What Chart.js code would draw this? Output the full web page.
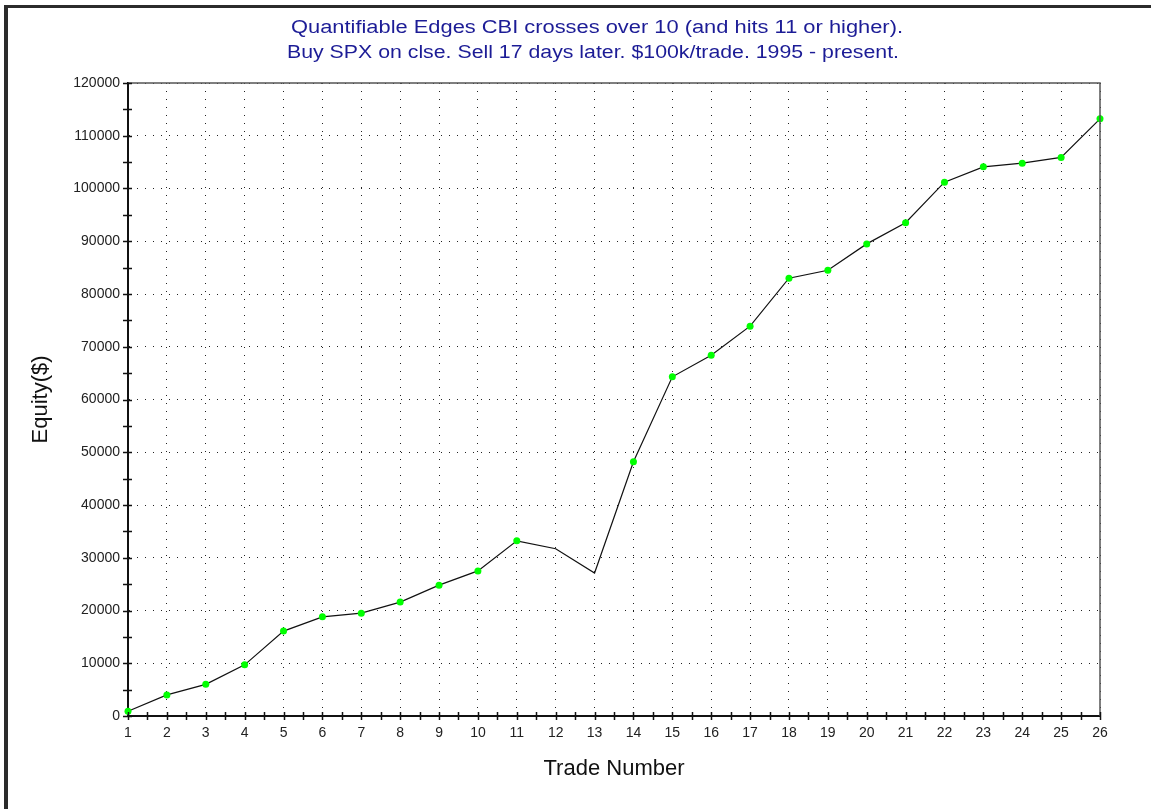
<!DOCTYPE html>
<html>
<head>
<meta charset="utf-8">
<script src="https://cdn.jsdelivr.net/npm/chart.js@4/dist/chart.umd.min.js"></script>
<style>
  html, body { margin: 0; padding: 0; background: #fff; }
  #frame {
    position: absolute; left: 4px; top: 5px; width: 1147px; height: 804px;
    border-left: 4px solid #2b2b2b; border-top: 3px solid #2b2b2b;
    box-sizing: border-box;
  }
  #myChart { position: absolute; left: 0; top: 0; }
</style>
</head>
<body>
<div id="frame"></div>
<canvas id="myChart" width="1151" height="809"></canvas>
<script>
// trade numbers and cumulative equity
const trades = [1, 2, 3, 4, 5, 6, 7, 8, 9, 10, 11, 12, 13, 14, 15, 16, 17, 18, 19, 20, 21, 22, 23, 24, 25, 26];
const equity = [900, 4000, 6000, 9700, 16100, 18800, 19500, 21600, 24800, 27500, 33200, 31700, 27100,
  48200, 64300, 68400, 73900, 83000, 84500, 89500, 93500, 101200, 104100, 104800, 105900, 113200];
// trades 12 and 13 have no marker in the original
const hasMarker = [1, 1, 1, 1, 1, 1, 1, 1, 1, 1, 1, 0, 0, 1, 1, 1, 1, 1, 1, 1, 1, 1, 1, 1, 1, 1];
const titleLines = [
  "Quantifiable Edges CBI crosses over 10 (and hits 11 or higher).",
  "Buy SPX on clse. Sell 17 days later. $100k/trade. 1995 - present."
];
const yMin = 0, yMax = 120000, yStep = 10000;
const xMin = 1, xMax = 26;

const pts = trades.map((t, i) => ({ x: t, y: equity[i] }));

const frameBits = {
  id: 'frameBits',
  afterDraw(chart) {
    const ctx = chart.ctx;
    const a = chart.chartArea;
    const xs = chart.scales.x, ys = chart.scales.y;
    ctx.save();
    // top + right frame of plot
    ctx.strokeStyle = '#555';
    ctx.lineWidth = 1.5;
    ctx.beginPath();
    ctx.moveTo(a.left, a.top);
    ctx.lineTo(a.right, a.top);
    ctx.lineTo(a.right, a.bottom);
    ctx.stroke();
    // tick marks crossing the axes, major + minor
    ctx.strokeStyle = '#111';
    ctx.lineWidth = 1.5;
    ctx.beginPath();
    for (let v = yMin; v <= yMax; v += yStep / 2) {
      const y = Math.round(ys.getPixelForValue(v)) + 0.5;
      ctx.moveTo(a.left - 5, y);
      ctx.lineTo(a.left + 4, y);
    }
    for (let v = xMin; v <= xMax; v += 0.5) {
      const x = Math.round(xs.getPixelForValue(v)) + 0.5;
      ctx.moveTo(x, a.bottom - 4);
      ctx.lineTo(x, a.bottom + 4);
    }
    ctx.stroke();
    // title, stretched a bit wider like the original's font
    ctx.fillStyle = '#1c1c96';
    ctx.font = '18px "Liberation Sans", Arial, sans-serif';
    ctx.textAlign = 'center';
    ctx.textBaseline = 'middle';
    [[titleLines[0], 597, 28], [titleLines[1], 593, 53]].forEach(([t, cx, cy]) => {
      const w = ctx.measureText(t).width;
      ctx.save();
      ctx.translate(cx, cy);
      ctx.scale(612 / w, 1);
      ctx.fillText(t, 0, 0);
      ctx.restore();
    });
    ctx.restore();
  }
};

const config = {
  type: 'line',
  data: {
    datasets: [{
      data: pts,
      clip: false,
      borderColor: '#111',
      borderWidth: 1.2,
      tension: 0,
      pointBackgroundColor: '#00ff00',
      pointBorderWidth: 0,
      pointRadius: hasMarker.map(m => m ? 3.5 : 0),
      pointHoverRadius: hasMarker.map(m => m ? 3.5 : 0)
    }]
  },
  options: {
    responsive: false,
    animation: false,
    layout: { padding: { left: 0, right: 51, top: 83, bottom: 0 } },
    plugins: { legend: { display: false }, tooltip: { enabled: false }, title: { display: false } },
    scales: {
      x: {
        type: 'linear',
        min: xMin, max: xMax,
        ticks: { stepSize: 1, color: '#222', padding: 9, font: { family: '"Liberation Sans", Arial', size: 14 }, maxRotation: 0 },
        grid: { color: '#222', lineWidth: 1, drawTicks: false },
        border: { display: true, color: '#111', width: 2, dash: [1, 7] },
        title: { display: true, text: 'Trade Number', color: '#111', font: { family: '"Liberation Sans", Arial', size: 22 }, padding: { bottom: 27, top: 0 } },
        afterFit(scale) { scale.height = 809 - 716; }
      },
      y: {
        min: yMin, max: yMax,
        ticks: { stepSize: yStep, color: '#222', padding: 8, font: { family: '"Liberation Sans", Arial', size: 14 }, callback: v => String(v) },
        grid: { color: '#222', lineWidth: 1, drawTicks: false },
        border: { display: true, color: '#111', width: 2, dash: [1, 7] },
        title: { display: true, text: 'Equity($)', color: '#111', font: { family: '"Liberation Sans", Arial', size: 22 }, padding: { top: 28, bottom: 0 } },
        afterFit(scale) { scale.width = 128; }
      }
    }
  },
  plugins: [frameBits]
};

const myChart = new Chart(document.getElementById('myChart'), config);
</script>
</body>
</html>
